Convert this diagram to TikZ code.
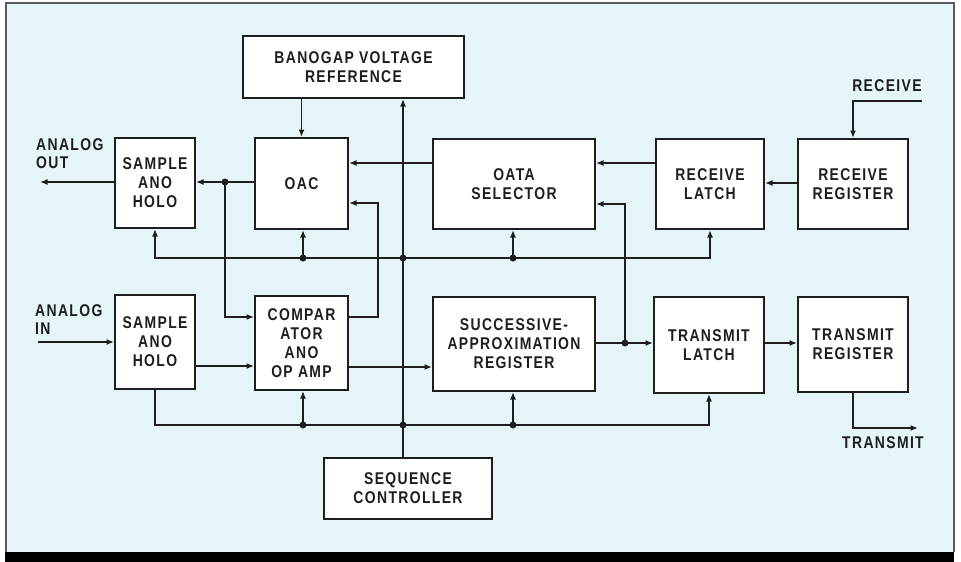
\documentclass[tikz,border=0pt]{standalone}
\usepackage{fontspec}
\setmainfont{Liberation Sans}
\newfontfamily\diagfont[FakeStretch=0.82,LetterSpace=8]{Liberation Sans}
\usetikzlibrary{arrows.meta}
\definecolor{paper}{HTML}{E6F6F8}
\definecolor{ink}{HTML}{1E1E1E}
\begin{document}
\begin{tikzpicture}[x=1pt,y=-1pt,
  blk/.style={draw=ink,line width=2pt,fill=white,align=center,inner sep=0pt,
    font=\diagfont\fontsize{17}{19}\bfseries\selectfont,text=ink},
  lbl/.style={inner sep=0pt,font=\diagfont\fontsize{17}{18}\bfseries\selectfont,text=ink},
  wire/.style={draw=ink,line width=1.4pt},
  arr/.style={wire,-{Latex[length=7.5pt,width=6pt]}},
  dot/.style={fill=ink}]
\useasboundingbox (0,0) rectangle (961,562);
% frame
\fill[white] (0,0) rectangle (961,562);
\fill[paper] (6,3) rectangle (954,552);
\draw[gray!70!black,line width=1.2pt] (6,552) -- (6,3) -- (954,3) -- (954,552);
\fill[black] (5,552) rectangle (954,562);
% blocks
\node[blk,minimum width=221,minimum height=62] (bg) at (353.5,67) {BANOGAP VOLTAGE\\REFERENCE};
\node[blk,minimum width=80,minimum height=90] (sh1) at (155,183) {SAMPLE\\ANO\\HOLO};
\node[blk,minimum width=93,minimum height=91] (dac) at (301.5,183.5) {OAC};
\node[blk,minimum width=162,minimum height=90] (dsel) at (514,184) {OATA\\SELECTOR};
\node[blk,minimum width=108,minimum height=90] (rlat) at (710,184) {RECEIVE\\LATCH};
\node[blk,minimum width=110,minimum height=90] (rreg) at (853,184) {RECEIVE\\REGISTER};
\node[blk,minimum width=80,minimum height=94] (sh2) at (155,342) {SAMPLE\\ANO\\HOLO};
\node[blk,minimum width=93,minimum height=94] (cmp) at (301.5,343) {COMPAR\\ATOR\\ANO\\OP AMP};
\node[blk,minimum width=162,minimum height=94] (sar) at (514,344) {SUCCESSIVE-\\APPROXIMATION\\REGISTER};
\node[blk,minimum width=110,minimum height=96] (tlat) at (709,345) {TRANSMIT\\LATCH};
\node[blk,minimum width=110,minimum height=95] (treg) at (853,344.5) {TRANSMIT\\REGISTER};
\node[blk,minimum width=168,minimum height=61] (seq) at (408,488.5) {SEQUENCE\\CONTROLLER};
% labels
\node[lbl,anchor=north west,align=left] (laout) at (36,138) {ANALOG\\OUT};
\node[lbl,anchor=north west,align=left] (lain) at (35,304) {ANALOG\\IN};
\node[lbl] (lrcv) at (887,86) {RECEIVE};
\node[lbl] (ltx) at (883,443) {TRANSMIT};
% junction coordinates
\coordinate (dT1) at (303,258);
\coordinate (dT2) at (403,258);
\coordinate (dT3) at (513,258);
\coordinate (dB1) at (303,425);
\coordinate (dB2) at (403,425);
\coordinate (dB3) at (513,425);
\coordinate (j1) at (225,182);
\coordinate (j2) at (625,343);
\coordinate (k1) at (378,203);
\coordinate (aout) at (40,182);
\coordinate (ain) at (38,342);
\coordinate (rcv) at (922,101);
\coordinate (tx) at (918,428);
\coordinate (c1) at ([yshift=26pt]cmp.east);
\coordinate (c2) at ([yshift=26pt]cmp.west);
\coordinate (c3) at ([yshift=-23pt]cmp.west);
\coordinate (c4) at ([yshift=-24pt]cmp.east);
% bandgap to DAC, bus to bandgap
\draw[arr] (dac.north |- bg.south) -- (dac.north);
\draw[arr] (seq.north -| dT2) -- (bg.south -| dT2);
% top control bus
\draw[arr] (dT1) -| (sh1.south);
\draw[arr] (dT1) -- (dT1 |- dac.south);
\draw[wire] (dT1) -- (dT3);
\draw[arr] (dT3) -- (dT3 |- dsel.south);
\draw[arr] (dT3) -| (rlat.south);
% bottom control bus
\draw[wire] (sh2.south) |- (dB1);
\draw[arr] (dB1) -- (dB1 |- cmp.south);
\draw[wire] (dB1) -- (dB3);
\draw[arr] (dB3) -- (dB3 |- sar.south);
\draw[arr] (dB3) -| (tlat.south);
% analog paths
\draw[arr] (dac.west |- j1) -- (sh1.east |- j1);
\draw[arr] (sh1.west |- aout) -- (aout);
\draw[arr] (j1) |- (c2);
\draw[arr] (ain) -- (sh2.west |- ain);
\draw[arr] (sh2.east |- c3) -- (c3);
\draw[arr] (c1) -| (k1) -- (dac.east |- k1);
\draw[arr] (c4) -- (sar.west |- c4);
% data paths
\draw[arr] (dsel.west |- 0,163) -- (dac.east |- 0,163);
\draw[arr] (rlat.west |- 0,163) -- (dsel.east |- 0,163);
\draw[arr] (rreg.west |- 0,183) -- (rlat.east |- 0,183);
\draw[arr] (rcv) -| (rreg.north);
\draw[arr] (sar.east |- j2) -- (tlat.west |- j2);
\draw[arr] (j2) |- (dsel.east |- 0,204);
\draw[arr] (tlat.east |- j2) -- (treg.west |- j2);
\draw[arr] (treg.south) |- (tx);
% dots
\foreach \d in {dT1,dT2,dT3,dB1,dB2,dB3,j1,j2} \fill[dot] (\d) circle (3.5);
\end{tikzpicture}
\end{document}
